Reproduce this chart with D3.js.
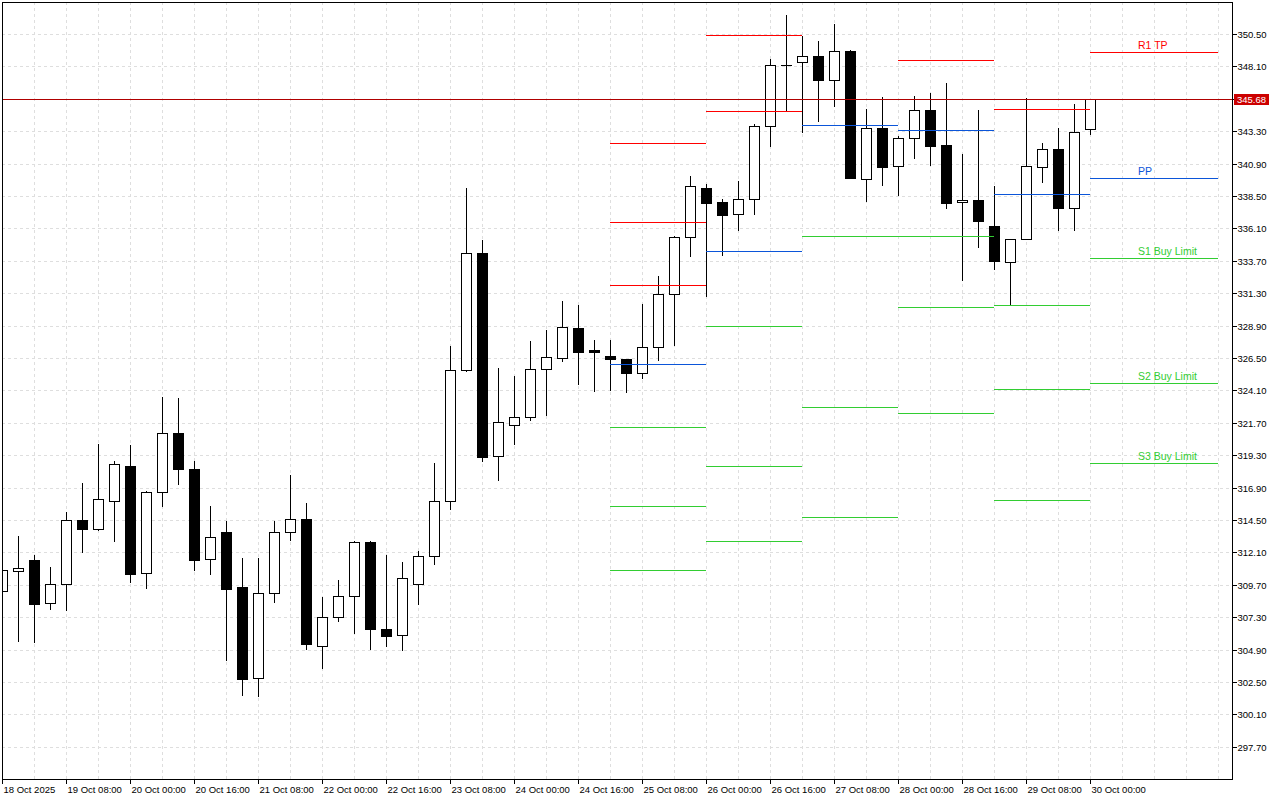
<!DOCTYPE html>
<html lang="en">
<head>
<meta charset="UTF-8">
<title>H4 candles with daily pivot levels</title>
<script src="https://d3js.org/d3.v7.min.js"></script>
<style>
  body { margin: 0; background: #fff; }
  svg { display: block; }
  text { font-family: "Liberation Sans", Arial, sans-serif; }
</style>
</head>
<body>
<div id="chart"></div>
<script>
// H4 bars from 18 Oct 16:00 to 30 Oct 00:00
var opens = [309.22, 310.74, 311.51, 308.33, 309.74, 314.48, 313.86, 315.93, 318.50, 310.55,
  316.55, 320.94, 318.28, 311.59, 313.59, 309.51, 302.77, 309.07, 313.59, 314.57,
  305.14, 307.29, 308.85, 312.87, 306.43, 305.96, 309.74, 311.81, 315.89, 325.59,
  334.26, 319.22, 321.52, 322.11, 325.66, 326.48, 328.70, 327.10, 326.63, 326.40,
  325.41, 327.29, 331.22, 335.44, 339.07, 338.06, 337.14, 338.26, 343.66, 348.18,
  348.40, 348.85, 347.07, 349.24, 339.74, 343.54, 340.70, 342.77, 344.87, 342.28,
  338.03, 338.20, 336.28, 333.63, 335.29, 340.63, 341.98, 337.63, 343.44];
var highs = [311.09, 313.34, 311.91, 311.02, 315.09, 317.24, 320.13, 318.87, 320.06, 316.65,
  323.61, 323.54, 318.87, 315.54, 314.43, 311.69, 311.69, 314.43, 317.83, 315.76,
  308.80, 310.06, 312.94, 312.94, 311.91, 311.39, 312.20, 318.72, 327.39, 339.09,
  335.24, 325.74, 325.17, 327.76, 328.57, 330.72, 330.43, 327.83, 327.83, 326.40,
  330.50, 332.57, 335.50, 339.98, 339.39, 338.26, 339.61, 343.81, 348.65, 351.91,
  350.35, 349.98, 351.24, 349.31, 344.94, 345.83, 342.94, 345.89, 346.13, 346.87,
  341.61, 344.87, 339.24, 335.32, 345.74, 342.43, 343.54, 345.31, 345.68];
var lows = [308.87, 305.56, 305.46, 307.91, 307.83, 312.13, 313.78, 312.94, 309.91, 309.49,
  315.56, 317.19, 310.82, 310.52, 304.15, 301.56, 301.49, 308.45, 313.04, 304.97,
  303.54, 307.04, 306.15, 304.97, 305.19, 304.89, 308.30, 311.26, 315.34, 325.54,
  318.89, 317.49, 320.15, 321.93, 322.28, 326.28, 324.60, 324.08, 324.15, 324.00,
  325.04, 326.35, 327.49, 334.08, 331.07, 334.15, 336.00, 337.19, 342.23, 344.89,
  343.26, 344.08, 345.19, 339.80, 338.15, 339.34, 338.60, 341.34, 340.82, 337.63,
  332.30, 334.74, 333.12, 330.43, 335.29, 339.56, 336.00, 335.96, 343.12];
var closes = [310.77, 310.92, 308.30, 309.74, 314.48, 313.86, 316.03, 318.63, 310.52, 316.55,
  320.92, 318.30, 311.56, 313.22, 309.41, 302.74, 309.07, 313.59, 314.55, 305.34,
  307.29, 308.85, 312.85, 306.45, 305.93, 310.18, 311.81, 315.89, 325.59, 334.26,
  319.19, 321.74, 322.11, 325.66, 326.55, 328.77, 326.97, 326.97, 326.39, 325.41,
  327.29, 331.22, 335.44, 339.22, 338.00, 337.12, 338.26, 343.66, 348.18, 348.18,
  348.85, 347.07, 349.22, 339.86, 343.51, 340.67, 342.77, 344.85, 342.23, 338.00,
  338.18, 336.67, 333.71, 335.32, 340.72, 341.96, 337.63, 343.22, 345.68];

// time axis labels and the bar each one sits on
var timeLabels = ["18 Oct 2025", "19 Oct 08:00", "20 Oct 00:00", "20 Oct 16:00", "21 Oct 08:00",
  "22 Oct 00:00", "22 Oct 16:00", "23 Oct 08:00", "24 Oct 00:00", "24 Oct 16:00",
  "25 Oct 08:00", "26 Oct 00:00", "26 Oct 16:00", "27 Oct 08:00", "28 Oct 00:00",
  "28 Oct 16:00", "29 Oct 08:00", "30 Oct 00:00"];
var timeLabelBars = [0, 4, 8, 12, 16, 20, 24, 28, 32, 36, 40, 44, 48, 52, 56, 60, 64, 68];

var priceTicks = [297.70, 300.10, 302.50, 304.90, 307.30, 309.70, 312.10, 314.50, 316.90,
  319.30, 321.70, 324.10, 326.50, 328.90, 331.30, 333.70, 336.10, 338.50, 340.90,
  343.30, 345.70, 348.10, 350.50];

// daily pivot levels (null = off the visible range)
var pivotDays = ["25 Oct", "26 Oct", "27 Oct", "28 Oct", "29 Oct", "30 Oct"];
var dayStartBar = [38, 44, 50, 56, 62, 68];
var dayEndBar = [44, 50, 56, 62, 68, 76];
var r3 = [342.43, null, null, null, null, null];
var r2 = [336.57, 350.40, null, null, null, null];
var r1 = [331.91, 344.77, null, 348.55, 344.92, 349.14];
var pp = [326.06, 334.40, 343.74, 343.37, 338.63, 339.81];
var s1 = [321.37, 328.85, 335.51, 335.51, 330.40, 333.89];
var s2 = [315.51, 318.48, 322.85, 330.26, 324.18, 324.65];
var s3 = [310.77, 312.92, 314.70, 322.40, 315.96, 318.70];
var lastDayLabels = ["R1 TP", "PP", "S1 Buy Limit", "S2 Buy Limit", "S3 Buy Limit"];

var RED = "#ff0000", BLUE = "#0b55d9", GREEN = "#32cd32";

var W = 1280, H = 800;
var plot = {left: 2, top: 2, right: 1232, bottom: 779};

var svg = d3.select("#chart").append("svg")
  .attr("width", W).attr("height", H)
  .attr("shape-rendering", "crispEdges");

svg.append("rect").attr("width", W).attr("height", H).attr("fill", "#fff");

var x = d3.scaleLinear().domain([0, 76]).range([2, 1218]);
var y = d3.scaleLinear().domain([295.315, 352.87]).range([plot.bottom, plot.top]);

function py(v) { return Math.round(y(v)) + 0.5; }
function px(i) { return Math.round(x(i)) + 0.5; }

svg.append("clipPath").attr("id", "clip")
  .append("rect")
  .attr("x", plot.left).attr("y", plot.top)
  .attr("width", plot.right - plot.left).attr("height", plot.bottom - plot.top);

var grid = svg.append("g")
  .attr("stroke", "#dedede")
  .attr("stroke-dasharray", "3,3");

grid.selectAll(".hgrid")
  .data(priceTicks)
  .enter().append("line")
  .attr("x1", plot.left).attr("x2", plot.right)
  .attr("y1", function(d) { return py(d); })
  .attr("y2", function(d) { return py(d); });

grid.selectAll(".vgrid")
  .data(d3.range(2, 77, 2))
  .enter().append("line")
  .attr("x1", function(d) { return px(d); })
  .attr("x2", function(d) { return px(d); })
  .attr("y1", plot.top).attr("y2", plot.bottom);

var chart = svg.append("g").attr("clip-path", "url(#clip)");

// candles
var bars = d3.range(opens.length);

chart.selectAll(".wick")
  .data(bars)
  .enter().append("line")
  .attr("class", "wick")
  .attr("x1", function(i) { return px(i); })
  .attr("x2", function(i) { return px(i); })
  .attr("y1", function(i) { return Math.round(y(highs[i])); })
  .attr("y2", function(i) { return Math.round(y(lows[i])) + 1; })
  .attr("stroke", "#000");

bars.forEach(function(i) {
  var top = Math.round(y(Math.max(opens[i], closes[i])));
  var bot = Math.round(y(Math.min(opens[i], closes[i])));
  var cx = Math.round(x(i));
  if (bot - top < 1) {
    chart.append("line")
      .attr("x1", cx - 5).attr("x2", cx + 6)
      .attr("y1", top + 0.5).attr("y2", top + 0.5)
      .attr("stroke", "#000");
    return;
  }
  chart.append("rect")
    .attr("x", cx - 4.5)
    .attr("y", top + 0.5)
    .attr("width", 10)
    .attr("height", bot - top)
    .attr("fill", closes[i] >= opens[i] ? "#fff" : "#000")
    .attr("stroke", "#000");
});

// pivot lines
var levels = [
  {vals: r3, color: RED}, {vals: r2, color: RED}, {vals: r1, color: RED},
  {vals: pp, color: BLUE},
  {vals: s1, color: GREEN}, {vals: s2, color: GREEN}, {vals: s3, color: GREEN}
];

levels.forEach(function(lv) {
  pivotDays.forEach(function(day, d) {
    if (lv.vals[d] == null) return;
    chart.append("line")
      .attr("x1", Math.round(x(dayStartBar[d])))
      .attr("x2", Math.round(x(dayEndBar[d])))
      .attr("y1", py(lv.vals[d])).attr("y2", py(lv.vals[d]))
      .attr("stroke", lv.color);
  });
});

// labels of the running day
var last = pivotDays.length - 1;
var labelled = [{vals: r1, color: RED}, {vals: pp, color: BLUE},
  {vals: s1, color: GREEN}, {vals: s2, color: GREEN}, {vals: s3, color: GREEN}];
labelled.forEach(function(lv, k) {
  svg.append("text")
    .attr("x", x(dayStartBar[last] + 3))
    .attr("y", py(lv.vals[last]) - 4)
    .attr("font-size", "10.5px")
    .attr("fill", lv.color)
    .text(lastDayLabels[k]);
});

// current price line
var lastPrice = closes[closes.length - 1];
chart.append("line")
  .attr("x1", plot.left).attr("x2", plot.right)
  .attr("y1", py(lastPrice)).attr("y2", py(lastPrice))
  .attr("stroke", "#b00000");

// frame
svg.append("rect")
  .attr("x", plot.left + 0.5).attr("y", plot.top + 0.5)
  .attr("width", plot.right - plot.left).attr("height", plot.bottom - plot.top)
  .attr("fill", "none").attr("stroke", "#000");

// price axis
var yAxis = d3.axisRight(y)
  .tickValues(priceTicks)
  .tickFormat(d3.format(".2f"))
  .tickSize(4)
  .tickPadding(1);

var yg = svg.append("g")
  .attr("transform", "translate(" + (plot.right + 0.5) + ",0)")
  .call(yAxis);
yg.select(".domain").remove();
yg.selectAll(".tick").attr("transform", function(d) { return "translate(0," + py(d) + ")"; });
yg.selectAll("text")
  .attr("font-family", "Liberation Sans, Arial, sans-serif")
  .attr("font-size", "9.5px")
  .attr("fill", "#000");

// time axis
var xAxis = d3.axisBottom(x)
  .tickValues(timeLabelBars)
  .tickFormat(function(d, k) { return timeLabels[k]; })
  .tickSize(4)
  .tickPadding(3);

var xg = svg.append("g")
  .attr("transform", "translate(0," + (plot.bottom + 0.5) + ")")
  .call(xAxis);
xg.select(".domain").remove();
xg.selectAll(".tick").attr("transform", function(d) { return "translate(" + px(d) + ",0)"; });
xg.selectAll("text")
  .attr("text-anchor", "start")
  .attr("x", 1)
  .attr("font-family", "Liberation Sans, Arial, sans-serif")
  .attr("font-size", "9.5px")
  .attr("fill", "#000");

// last price tag
svg.append("rect")
  .attr("x", plot.right + 2).attr("y", Math.round(y(lastPrice)) - 5)
  .attr("width", 35).attr("height", 11)
  .attr("fill", "#cc0000");
svg.append("text")
  .attr("x", plot.right + 5).attr("y", Math.round(y(lastPrice)) + 4)
  .attr("font-size", "9.5px")
  .attr("fill", "#fff")
  .text(d3.format(".2f")(lastPrice));
</script>
</body>
</html>
